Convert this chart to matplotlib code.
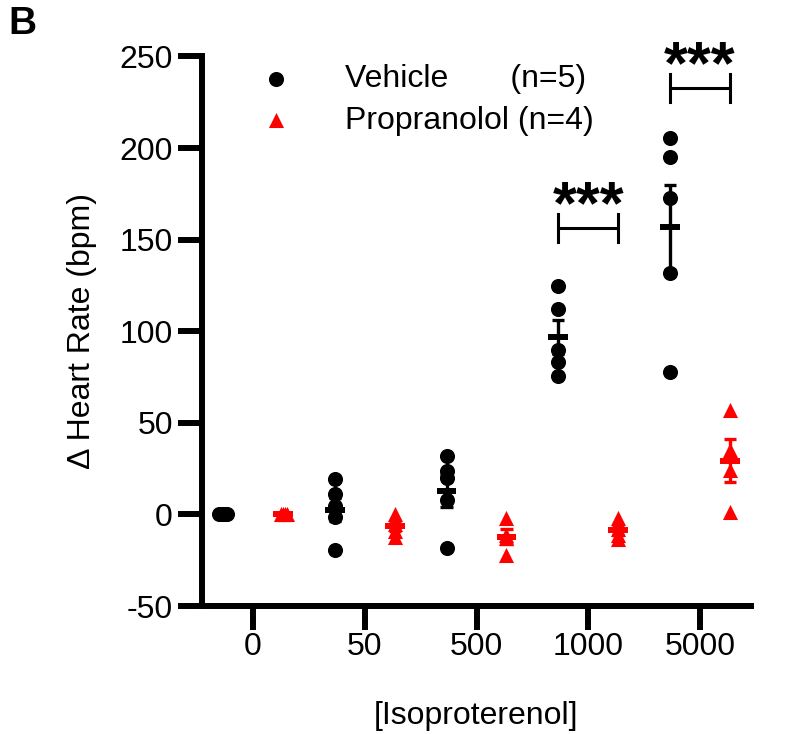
import numpy as np
import matplotlib
matplotlib.use("Agg")
import matplotlib.pyplot as plt

plt.rcParams['font.family'] = ['Liberation Sans', 'DejaVu Sans']
plt.rcParams['axes.unicode_minus'] = False

doses = ['0', '50', '500', '1000', '5000']

vehicle = [
    [0, 0, 0, 0, 0],
    [19.1, 10.9, 4.5, -1.5, -19.6],
    [32, 23.5, 20, 8, -18.5],
    [124.5, 112, 90, 83, 75.5],
    [205.5, 195, 173, 132, 78],
]
propranolol = [
    [0, 0, 0, 0],
    [0.5, -5, -9, -12.5],
    [-2.2, -11, -13, -22.2],
    [-1.8, -8, -11, -13.5],
    [57, 35, 24, 1.5],
]

# significance brackets: (dose index, bracket height, label)
sig = [(3, 156.5, '***'), (4, 232.8, '***')]

fig = plt.figure(figsize=(7.92, 7.34), dpi=100)
ax = fig.add_axes([202/792, 1 - 606/734, 549/792, 549.5/734])
ax.set_xlim(-0.456, 4.456)
ax.set_ylim(-50, 250)

off = 0.268


def spread(values, xc):
    # small horizontal spread for overlapping points (in pixels)
    placed = []
    xs = []
    for v in values:
        yp = ax.transData.transform((xc, v))[1]
        for k in [0, 1, -1, 2, -2, 3, -3, 4, -4]:
            dx = 2.0 * k
            if all(np.hypot(dx - px, yp - py) >= 1.9 for px, py in placed):
                break
        placed.append((dx, yp))
        x0 = ax.transData.transform((xc, v))[0]
        xs.append(ax.transData.inverted().transform((x0 + dx, yp))[0])
    return xs


def group(vals, xc, color, marker):
    vals = np.array(vals, dtype=float)
    xs = spread(vals, xc)
    ax.scatter(xs, vals, s=118, c=color, marker=marker, linewidths=0, zorder=3)
    m = vals.mean()
    sem = vals.std(ddof=1) / np.sqrt(len(vals))
    ax.vlines(xc, m - sem, m + sem, color=color, lw=2.4, zorder=4)
    ax.hlines([m - sem, m + sem], xc - 0.055, xc + 0.055, color=color, lw=2.4, zorder=4)
    ax.hlines(m, xc - 0.088, xc + 0.088, color=color, lw=4.3, zorder=4)


for i in range(len(doses)):
    group(vehicle[i], i - off, 'black', 'o')
    group(propranolol[i], i + off, '#ff0000', '^')

for i, y, lab in sig:
    ax.plot([i - off, i + off], [y, y], color='black', lw=2.2, solid_capstyle='butt')
    ax.plot([i - off, i - off], [y - 7.6, y + 7.6], color='black', lw=2.2)
    ax.plot([i + off, i + off], [y - 7.6, y + 7.6], color='black', lw=2.2)
    ax.text(i, y + 2.5, lab, ha='center', va='baseline', fontsize=44, fontweight='bold')

# legend
h1 = ax.scatter([], [], s=118, c='black', marker='o', linewidths=0)
h2 = ax.scatter([], [], s=118, c='#ff0000', marker='^', linewidths=0)
ax.legend([h1, h2], ['Vehicle       (n=5)', 'Propranolol (n=4)'],
          loc='upper left', bbox_to_anchor=(244/792, 1 - 64/734),
          bbox_transform=fig.transFigure, frameon=False, fontsize=23,
          handlelength=2.0, handletextpad=1.15, labelspacing=0.36,
          borderpad=0, borderaxespad=0, scatterpoints=1)

ax.spines['top'].set_visible(False)
ax.spines['right'].set_visible(False)
for s in ['left', 'bottom']:
    ax.spines[s].set_linewidth(4.3)
ax.set_yticks(np.arange(-50, 251, 50))
ax.set_xticks(range(len(doses)))
ax.set_xticklabels(doses)
ax.tick_params(axis='both', length=17, width=4.3, labelsize=23, pad=4)
ax.tick_params(axis='x', pad=2)

ax.set_ylabel('Δ Heart Rate (bpm)', fontsize=23, labelpad=16)
ax.set_xlabel('[Isoproterenol]', fontsize=23, labelpad=28)

fig.text(8/792, 1 - 6/734, 'B', fontsize=28, fontweight='bold', ha='left', va='top')

fig.savefig('out.png', dpi=100)
